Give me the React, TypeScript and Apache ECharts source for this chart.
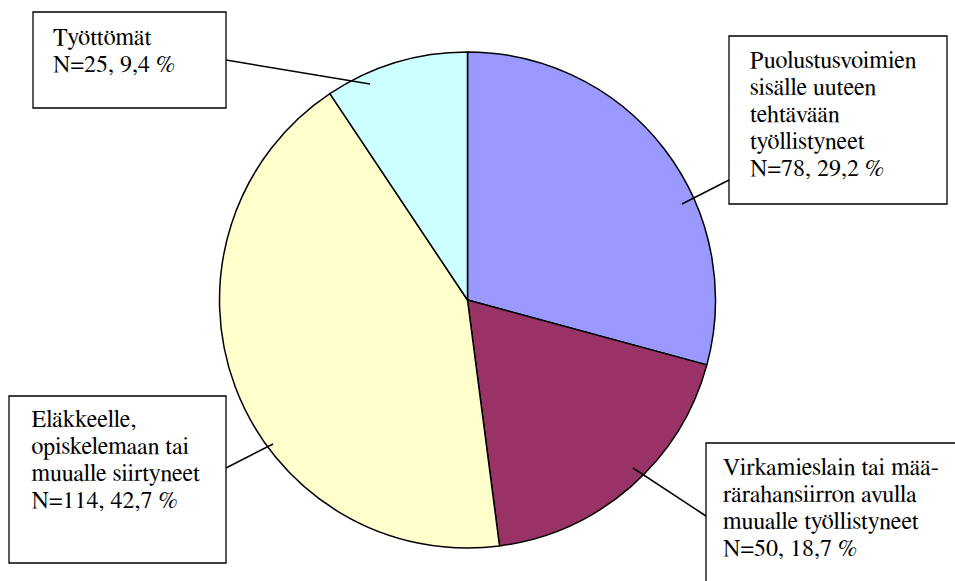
import React, { useEffect, useRef } from "react";
import * as echarts from "echarts";

const categories = [
  "Puolustusvoimien\nsisälle uuteen\ntehtävään\ntyöllistyneet",
  "Virkamieslain tai mää-\nrärahansiirron avulla\nmuualle työllistyneet",
  "Eläkkeelle,\nopiskelemaan tai\nmuualle siirtyneet",
  "Työttömät",
];
const counts = [78, 50, 114, 25];
const colors = ["#9999FF", "#993366", "#FFFFCC", "#CCFFFF"];

const FONT = "24px 'FreeSerif', 'Liberation Serif', 'Noto Serif', serif";

export default function App() {
  const ref = useRef<HTMLDivElement>(null);
  useEffect(() => {
    if (!ref.current) return;
    const chart = echarts.init(ref.current, undefined, { renderer: "svg" });
    const total = counts.reduce((a, b) => a + b, 0);
    const labelText = (i: number) =>
      `${categories[i]}\nN=${counts[i]}, ${((counts[i] / total) * 100).toFixed(1).replace(".", ",")} %`;

    const boxes: any[] = [
      { i: 0, r: [729, 36, 218, 168], t: [750, 47.5], l: [729, 180, 682, 204] },
      { i: 1, r: [706, 443, 262, 160], t: [723, 454.5], l: [706, 516, 633, 468] },
      { i: 2, r: [9, 396, 217, 167], t: [31.5, 406.5], l: [226, 468, 273, 444] },
      { i: 3, r: [33, 12, 193, 96], t: [53, 24], l: [226, 60, 370, 84] },
    ];

    const graphics: any[] = [];
    boxes.forEach((b) => {
      graphics.push({
        type: "rect",
        z: 100,
        shape: { x: b.r[0], y: b.r[1], width: b.r[2], height: b.r[3] },
        style: { fill: "#ffffff", stroke: "#000000", lineWidth: 1.3 },
      });
      graphics.push({
        type: "text",
        z: 101,
        x: b.t[0],
        y: b.t[1],
        style: {
          text: labelText(b.i),
          font: FONT,
          lineHeight: 27,
          fill: "#000000",
          align: "left",
          verticalAlign: "top",
        },
      });
      graphics.push({
        type: "line",
        z: 102,
        shape: { x1: b.l[0], y1: b.l[1], x2: b.l[2], y2: b.l[3] },
        style: { stroke: "#000000", lineWidth: 1.5 },
      });
    });

    chart.setOption({
      animation: false,
      backgroundColor: "#ffffff",
      series: [
        {
          type: "pie",
          center: [467.5, 300],
          radius: 248,
          startAngle: 90,
          clockwise: true,
          silent: true,
          label: { show: false },
          labelLine: { show: false },
          itemStyle: { borderColor: "#000000", borderWidth: 1.5 },
          data: categories.map((c, i) => ({
            name: c,
            value: counts[i],
            itemStyle: { color: colors[i] },
          })),
        },
      ],
      graphic: graphics,
    });
    return () => chart.dispose();
  }, []);
  return (
    <div
      ref={ref}
      style={{ position: "fixed", left: 0, top: 0, width: 955, height: 581 }}
    />
  );
}
